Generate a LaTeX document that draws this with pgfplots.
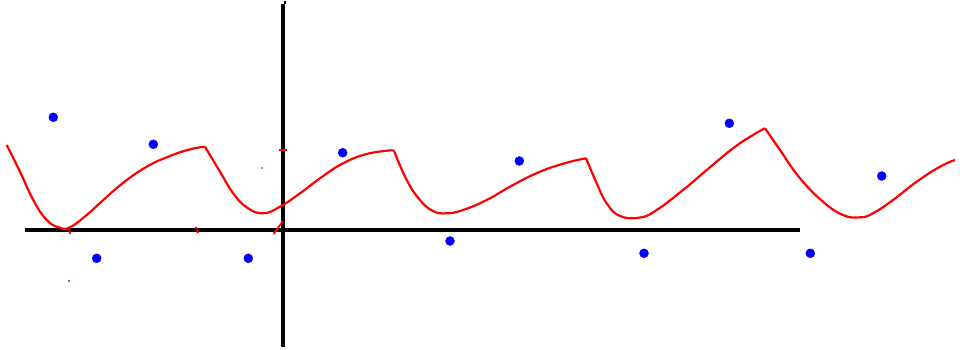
\documentclass[border=0pt]{standalone}
\usepackage{pgfplots}
\pgfplotsset{compat=1.18}
\definecolor{pred}{RGB}{255,0,0}
\definecolor{pblue}{RGB}{0,0,255}
\begin{document}
\begin{tikzpicture}
\begin{axis}[
  width=960pt, height=347pt, scale only axis,
  xmin=0, xmax=960, ymin=0, ymax=347, y dir=reverse,
  hide axis, clip=false,
]
\path (axis cs:0,0) rectangle (axis cs:960,347);
% black axes
\addplot[black, line width=4pt] coordinates {(25,230) (800,230)};
\addplot[black, line width=4pt] coordinates {(283,4) (283,347)};
\addplot[black, line width=2pt] coordinates {(284.5,1) (284.5,4)};
% red curve segments
\addplot[pred, line width=2.2pt, smooth, tension=0.75] coordinates {
(6.7,145) (20,171.7) (33.3,200) (46.7,220) (60,227.7) (70,227.3) (86.7,215) (100,203) (123,183) (146.7,166.7) (170,156) (190,149.3) (205,146.7)};
\addplot[pred, line width=2.2pt, smooth, tension=0.75] coordinates {
(205,146.7) (220,171.7) (233,193) (246.7,207.3) (263,213.3) (280,206.7) (300,193.3) (320,178.3) (340,165) (363,155) (386.7,150.7) (394,150.7)};
\addplot[pred, line width=2.2pt, smooth, tension=0.75] coordinates {
(394,150.7) (406.7,180) (420,200) (433,211) (446.7,213.3) (463,210) (486.7,200) (513,185) (540,171.7) (566.7,162.7) (586,158.3)};
\addplot[pred, line width=2.2pt, smooth, tension=0.75] coordinates {
(586,158.3) (596.7,183.3) (606.7,203.3) (620,216) (640,217.5) (656.7,210) (683,190) (706.7,170) (733,148.3) (753,135) (765,128.3)};
\addplot[pred, line width=2.2pt, smooth, tension=0.75] coordinates {
(765,128.3) (780,150) (800,178.3) (823,201.7) (843,215) (860,217.3) (873,213.3) (893,200) (916.7,181.7) (940,166.7) (955,160)};
% small red marks
\addplot[pred, line width=1.8pt] coordinates {(69,227) (70,234)};
\addplot[pred, line width=1.8pt] coordinates {(196,227) (198,233)};
\addplot[pred, line width=1.8pt] coordinates {(273.5,234) (283,221)};
\addplot[pred, line width=2pt] coordinates {(279,150) (287,150)};
\addplot[pred, only marks, mark=*, mark size=0.6pt] coordinates {(262,168)};
% blue dots
\addplot[pblue, only marks, mark=*, mark size=4.5pt, mark options={draw=pblue, fill=pblue}] coordinates {
(53.3,117.3) (153.3,144.3) (96.7,258.3) (248.3,258.3) (342.7,152.7) (519.3,161) (450,241) (644,253.3) (729.3,123.3) (810.3,253.3) (881.7,176)};
\addplot[pblue, only marks, mark=*, mark size=0.6pt] coordinates {(69,281)};
\end{axis}
\end{tikzpicture}
\end{document}
